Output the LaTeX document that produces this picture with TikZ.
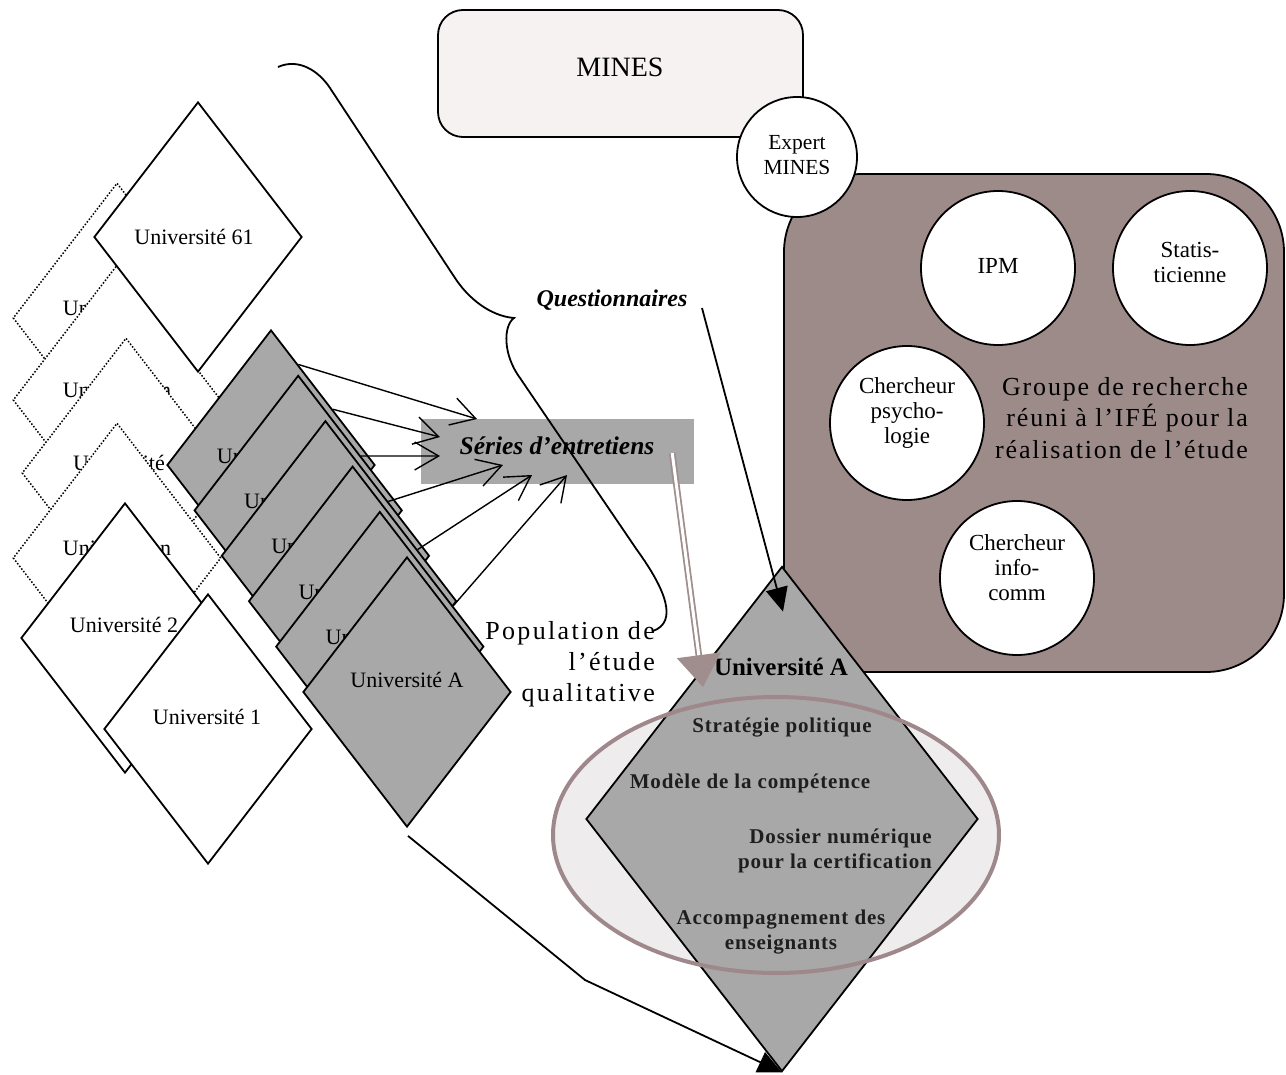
\documentclass[tikz,border=0pt]{standalone}
\usepackage{fontspec}
\setmainfont{Liberation Serif}
\usetikzlibrary{shapes.geometric,arrows.meta,calc}
\definecolor{diagrey}{RGB}{168,168,168}
\definecolor{groupbrown}{RGB}{157,139,138}
\definecolor{minesfill}{RGB}{245,242,241}
\definecolor{ellbrown}{RGB}{158,136,140}
\definecolor{ellfill}{RGB}{238,236,236}
\definecolor{arrbrown}{RGB}{160,142,142}
\definecolor{darktxt}{RGB}{30,30,30}
\begin{document}
\begin{tikzpicture}[x=1pt,y=-1pt,
  dia/.style={diamond, draw=black, line width=1.8pt, inner sep=0pt, fill=white, minimum width=208pt, minimum height=270pt},
  dotdia/.style={dia, line width=1.5pt, dash pattern=on 1.5pt off 1.8pt},
  greydia/.style={dia, fill=diagrey},
  utxt/.style={inner sep=0pt, font=\fontsize{22}{24}\selectfont},
  circ/.style={circle, draw=black, line width=1.8pt, fill=white, inner sep=0pt, minimum size=154pt},
  ctxt/.style={inner sep=0pt, align=center, font=\fontsize{23}{25}\selectfont},
  barb/.style={line width=1.4pt, -{Straight Barb[length=24pt,width=28pt]}},
  tri/.style={line width=1.8pt, -{Triangle[length=24pt,width=22pt]}},
  dtxt/.style={inner sep=0pt, text=darktxt, font=\fontsize{21}{25}\selectfont\bfseries\addfontfeatures{LetterSpace=4}},
  bigtxt/.style={inner sep=0pt, font=\fontsize{26}{31.5}\selectfont\addfontfeatures{LetterSpace=7}},
  bitxt/.style={inner sep=0pt, font=\fontsize{24}{26}\selectfont\bfseries\itshape},
]
\useasboundingbox (0,0) rectangle (1286,1075);

% MINES
\node[draw=black, line width=1.8pt, fill=minesfill, rounded corners=25pt, minimum width=365pt, minimum height=127pt, inner sep=0pt] (mines) at (620.5,73.5) {};
\node[inner sep=0pt, font=\fontsize{28}{30}\selectfont] (minestxt) at (620,67) {MINES};

% research group
\node[draw=black, line width=1.8pt, fill=groupbrown, rounded corners=78pt, minimum width=500pt, minimum height=498pt, inner sep=0pt] (groupe) at (1034,423) {};
\node[circ, minimum size=120pt] (expert) at (797,157) {};
\node[ctxt, font=\fontsize{21.5}{25}\selectfont] (experttxt) at (797,155) {Expert\\MINES};
\node[circ] (ipm) at (998,268) {};
\node[ctxt] (ipmtxt) at (998,266) {IPM};
\node[circ] (stat) at (1190,268) {};
\node[ctxt] (stattxt) at (1190,262) {Statis-\\ticienne};
\node[circ] (psy) at (907,423) {};
\node[ctxt] (psytxt) at (907,413) {Chercheur\\psycho-\\logie};
\node[circ] (info) at (1017,578) {};
\node[ctxt] (infotxt) at (1017,568) {Chercheur\\info-\\comm};
\node[bigtxt, anchor=east, align=right] (grouptxt) at (1248,418) {Groupe de recherche\\réuni à l’IFÉ pour la\\réalisation de l’étude};

% Universite A (big)
\node[ellipse, fill=ellfill, minimum width=446pt, minimum height=276pt, inner sep=0pt] (ellbg) at (776,835) {};
\node[diamond, draw=black, line width=1.8pt, fill=diagrey, minimum width=392pt, minimum height=505pt, inner sep=0pt] (ua) at (782,819) {};
\node[ellipse, draw=ellbrown, line width=4pt, minimum width=446pt, minimum height=276pt, inner sep=0pt] (ell) at (776,835) {};
\node[inner sep=0pt, font=\fontsize{25}{27}\selectfont\bfseries] (uatxt) at (781,667) {Université A};
\node[dtxt] (strat) at (782,728) {Stratégie politique};
\node[dtxt] (modele) at (750,783) {Modèle de la compétence};
\node[dtxt, anchor=east, align=right] (dossier) at (932,851) {Dossier numérique\\pour la certification};
\node[dtxt, align=center] (accomp) at (781,932) {Accompagnement des\\enseignants};

% Series d'entretiens
\node[fill=diagrey, minimum width=273pt, minimum height=65pt, inner sep=0pt] (series) at (557.5,451.5) {};
\node[bitxt, font=\fontsize{25.5}{27}\selectfont\bfseries\itshape] (seriestxt) at (557,446) {Séries d’entretiens};

% left diamonds
\node[dotdia] (d1) at (117,318) {};
\node[utxt] (d1t) at (117,308) {Université n};
\node[dotdia] (d2) at (117,400) {};
\node[utxt] (d2t) at (117,390) {Université n};
\node[dia] (u61) at (198,237) {};
\node[utxt] (u61t) at (194,237) {Université 61};
\node[dotdia] (d3) at (126,473) {};
\node[utxt] (d3t) at (119,463) {Université};
\node[dotdia] (d4) at (117,558) {};
\node[utxt] (d4t) at (117,548) {Université n};

\node[greydia] (g1) at (271,465) {};
\node[utxt] (g1t) at (271,456) {Université n};
\node[greydia] (g2) at (298.2,510.4) {};
\node[utxt] (g2t) at (298.2,501) {Université n};
\node[greydia] (g3) at (325.4,555.8) {};
\node[utxt] (g3t) at (325.4,546) {Université n};
\node[greydia] (g4) at (352.6,601.2) {};
\node[utxt] (g4t) at (352.6,592) {Université n};
\node[greydia] (g5) at (379.8,646.6) {};
\node[utxt] (g5t) at (379.8,637) {Université n};
\node[greydia] (g6) at (407,692) {};
\node[utxt] (g6t) at (407,680) {Université A};

\node[dia] (u2) at (125,638) {};
\node[utxt] (u2t) at (124,625) {Université 2};
\node[dia] (u1) at (208,729) {};
\node[utxt] (u1t) at (207,717) {Université 1};

% interview arrows
\coordinate (e1) at (477,419);
\coordinate (e2) at (440,437);
\coordinate (e3) at (440,456);
\coordinate (e4) at (503,465);
\coordinate (e5) at (532,475);
\coordinate (e6) at (567,475);
\draw[barb] ($(g1.north)!0.26!(g1.east)$) -- (e1);
\draw[barb] ($(g1.north)!0.59!(g1.east)$) -- (e2);
\draw[barb] ($(g2.north)!0.6!(g2.east)$) -- (e3);
\draw[barb] ($(g3.north)!0.6!(g3.east)$) -- (e4);
\draw[barb] ($(g4.north)!0.62!(g4.east)$) -- (e5);
\draw[barb] ($(g5.north)!0.7!(g5.east)$) -- (e6);

% brace
\draw[line width=1.8pt] (278,67) .. controls (298,58) and (318,70) .. (330,88)
  -- (455,278) .. controls (468,298) and (490,316) .. (514,318)
  .. controls (503,326) and (503,355) .. (520,378)
  -- (637,550) .. controls (666,590) and (678,622) .. (653,631);

\node[bitxt] (quest) at (612,300) {Questionnaires};
\node[bigtxt, anchor=east, align=right, font=\fontsize{26}{31}\selectfont\addfontfeatures{LetterSpace=9}] (pop) at (655,664) {Population de\\l’étude\\qualitative};

% connectors to Universite A
\coordinate (qs) at (702,308);
\draw[tri] (qs) -- ($(ua.north)+(1,46)$);
\draw[tri] ($(g6.south)+(1,8)$) -- (585,980) -- (ua.south);
\coordinate (dtip) at (703,687);
\draw[arrbrown, line width=1.8pt, double=white, double distance=3pt, -{Triangle[length=32pt,width=44pt]}] ($(series.east)+(-22,1.5)$) -- (dtip);
\end{tikzpicture}
\end{document}
